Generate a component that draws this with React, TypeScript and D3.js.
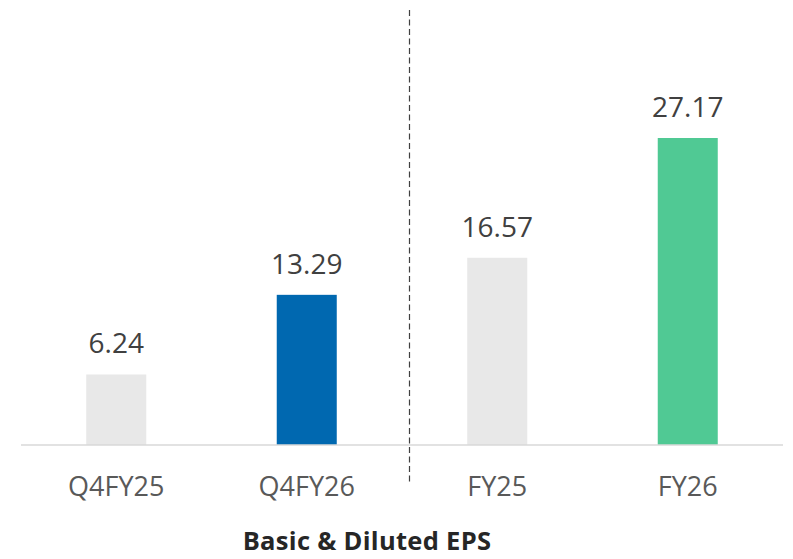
import React from "react";
import * as d3 from "d3";

const categories = ["Q4FY25", "Q4FY26", "FY25", "FY26"];
const values = [6.24, 13.29, 16.57, 27.17];
const colors = ["#e8e8e8", "#0068b0", "#e8e8e8", "#50c994"];
const labels = ["6.24", "13.29", "16.57", "27.17"];
const title = "Basic & Diluted EPS";

const W = 793;
const H = 559;
const FONT = "'Open Sans', 'Noto Sans', sans-serif";

export default function App() {
  const x = d3
    .scaleBand<string>()
    .domain(categories)
    .range([21, 783])
    .paddingInner(0.685)
    .paddingOuter(0.3425);
  const y = d3.scaleLinear().domain([0, 27.17]).range([445, 138]);
  const bw = x.bandwidth();
  const divX = (x("Q4FY26")! + bw + x("FY25")!) / 2 + 7.5;

  return (
    <svg
      width={W}
      height={H}
      style={{ position: "absolute", left: 0, top: 0 }}
      fontFamily={FONT}
    >
      <rect width={W} height={H} fill="#ffffff" />
      {categories.map((c, i) => (
        <g key={c}>
          <rect
            x={x(c)!}
            y={y(values[i])}
            width={bw}
            height={y(0) - y(values[i])}
            fill={colors[i]}
          />
          <text
            x={x(c)! + bw / 2}
            y={y(values[i]) - 21}
            textAnchor="middle"
            fontSize={28}
            fill="#404040"
          >
            {labels[i]}
          </text>
          <text
            x={x(c)! + bw / 2}
            y={496}
            textAnchor="middle"
            fontSize={27}
            fill="#595959"
          >
            {c}
          </text>
        </g>
      ))}
      <line x1={21} x2={783} y1={445} y2={445} stroke="#d9d9d9" strokeWidth={1.5} />
      <line
        x1={divX}
        x2={divX}
        y1={10}
        y2={483}
        stroke="#404040"
        strokeWidth={1.2}
        strokeDasharray="6 3.5"
      />
      <text
        x={367}
        y={550}
        textAnchor="middle"
        fontSize={25.5}
        fontWeight="bold"
        fill="#262626"
        letterSpacing={0.3}
      >
        {title}
      </text>
    </svg>
  );
}
